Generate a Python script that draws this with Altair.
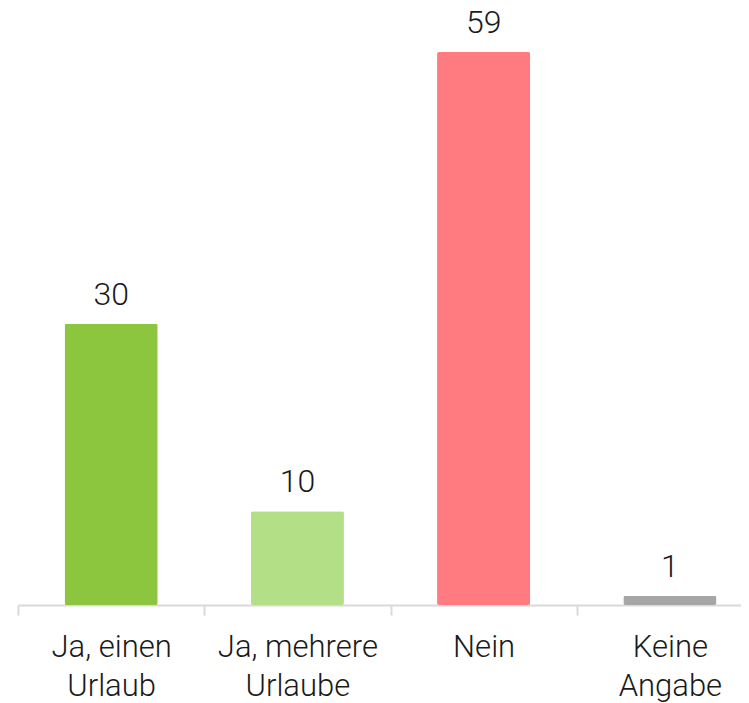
import altair as alt
import pandas as pd

categories = ["Ja, einen Urlaub", "Ja, mehrere Urlaube", "Nein", "Keine Angabe"]
values = [30, 10, 59, 1]
colors = ["#8cc63e", "#b3e087", "#ff7b80", "#a6a6a6"]

df = pd.DataFrame({"cat": categories, "value": values, "color": colors})

label_expr = (
    "datum.value == 'Ja, einen Urlaub' ? ['Ja, einen', 'Urlaub'] : "
    "datum.value == 'Ja, mehrere Urlaube' ? ['Ja, mehrere', 'Urlaube'] : "
    "datum.value == 'Keine Angabe' ? ['Keine', 'Angabe'] : datum.value"
)

x_scale = alt.Scale(paddingInner=0, paddingOuter=0, range=[0, 745])

x = alt.X(
    "cat:N",
    sort=categories,
    scale=x_scale,
    axis=alt.Axis(
        title=None,
        labelAngle=0,
        labelExpr=label_expr,
        labelFont="Roboto",
        labelFontWeight=300,
        labelFontSize=31,
        labelColor="#1a1a1a",
        labelLineHeight=39,
        labelPadding=41,
        labelBaseline="alphabetic",
        domainColor="#d9d9d9",
        domainWidth=2,
        tickColor="#d9d9d9",
        tickWidth=2,
        tickSize=10,
        tickBand="extent",
    ),
)

y = alt.Y("value:Q", scale=alt.Scale(domain=[0, 63.06], nice=False), axis=None)

bars = alt.Chart(df).mark_bar(cornerRadius=2, width=alt.RelativeBandSize(0.5)).encode(
    x=x, y=y, color=alt.Color("color:N", scale=None)
)

text = alt.Chart(df).mark_text(
    font="Roboto", fontWeight=300, fontSize=32, color="#1a1a1a", baseline="alphabetic", dy=-19
).encode(x=alt.X("cat:N", sort=categories), y=y, text="value:Q")

chart = (
    (bars + text)
    .properties(
        width=723,
        height=591,
        padding={"left": 10, "top": 6, "right": 0, "bottom": 100},
        autosize=alt.AutoSizeParams(type="none"),
    )
    .configure_view(stroke=None)
)

chart.save("out.html", embed_options={"renderer": "svg", "actions": False})
